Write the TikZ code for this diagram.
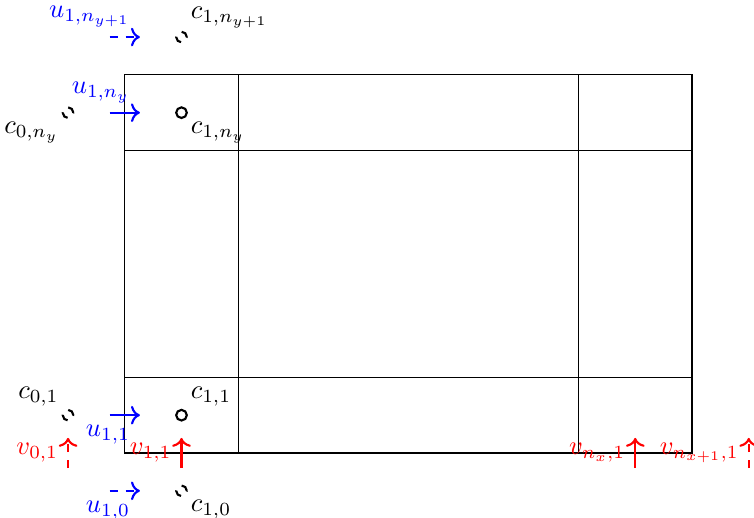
\documentclass[tikz,border=0pt]{standalone}
\usepackage{amsmath}
\usetikzlibrary{arrows.meta,positioning,calc}

\begin{document}
\begin{tikzpicture}[cell/.style={circle,draw,thick,minimum size=4pt,inner sep=0pt},ghost/.style={cell,dashed},uarr/.style={->,thick,blue},varr/.style={->,thick,red},ulab/.style={text=blue},vlab/.style={text=red}]
\useasboundingbox (-1.65,-0.85) rectangle (8.32,5.99);
% grid
\draw (0,0) rectangle (7.5,5);
\foreach \x in {1.5,6} \draw (\x,0) -- (\x,5);
\foreach \y in {1,4} \draw (0,\y) -- (7.5,\y);
% cell centres
\node[cell] (c11) at (0.75,0.5){};\node[above right] (l11) at (c11.center){$c_{1,1}$};
\node[cell] (c1ny) at (0.75,4.5){};\node[below right] (l1ny) at (c1ny.center){$c_{1,n_y}$};
\node[ghost] (c01) at (-0.75,0.5){};\node[above left] (l01) at (c01.center){$c_{0,1}$};
\node[ghost] (c0ny) at (-0.75,4.5){};\node[below left] (l0ny) at (c0ny.center){$c_{0,n_y}$};
\node[ghost] (c10) at (0.75,-0.5){};\node[below right] (l10) at (c10.center){$c_{1,0}$};
\node[ghost] (c1np) at (0.75,5.5){};\node[above right] (l1np) at (c1np.center){$c_{1,n_{y+1}}$};
% u faces
\coordinate (u11a) at (-0.2,0.5);\coordinate (u11b) at (0.2,0.5);
\coordinate (u1nya) at (-0.2,4.5);\coordinate (u1nyb) at (0.2,4.5);
\coordinate (u10a) at (-0.2,-0.5);\coordinate (u10b) at (0.2,-0.5);
\coordinate (u1npa) at (-0.2,5.5);\coordinate (u1npb) at (0.2,5.5);
\draw[uarr] (u11a) -- (u11b) node[ulab,below left]{$u_{1,1}$};
\draw[uarr] (u1nya) -- (u1nyb) node[ulab,above left]{$u_{1,n_y}$};
\draw[uarr,dashed] (u10a) -- (u10b) node[ulab,below left]{$u_{1,0}$};
\draw[uarr,dashed] (u1npa) -- (u1npb) node[ulab,above left]{$u_{1,n_{y+1}}$};
% v faces
\coordinate (v11a) at (0.75,-0.2);\coordinate (v11b) at (0.75,0.2);
\coordinate (v01a) at (-0.75,-0.2);\coordinate (v01b) at (-0.75,0.2);
\coordinate (vnxa) at (6.75,-0.2);\coordinate (vnxb) at (6.75,0.2);
\coordinate (vnpa) at (8.25,-0.2);\coordinate (vnpb) at (8.25,0.2);
\draw[varr] (v11a) -- (v11b) node[vlab,midway,left]{$v_{1,1}$};
\draw[varr,dashed] (v01a) -- (v01b) node[vlab,midway,left]{$v_{0,1}$};
\draw[varr] (vnxa) -- (vnxb) node[vlab,midway,left]{$v_{n_x,1}$};
\draw[varr,dashed] (vnpa) -- (vnpb) node[vlab,midway,left]{$v_{n_{x+1},1}$};
\end{tikzpicture}
\end{document}
